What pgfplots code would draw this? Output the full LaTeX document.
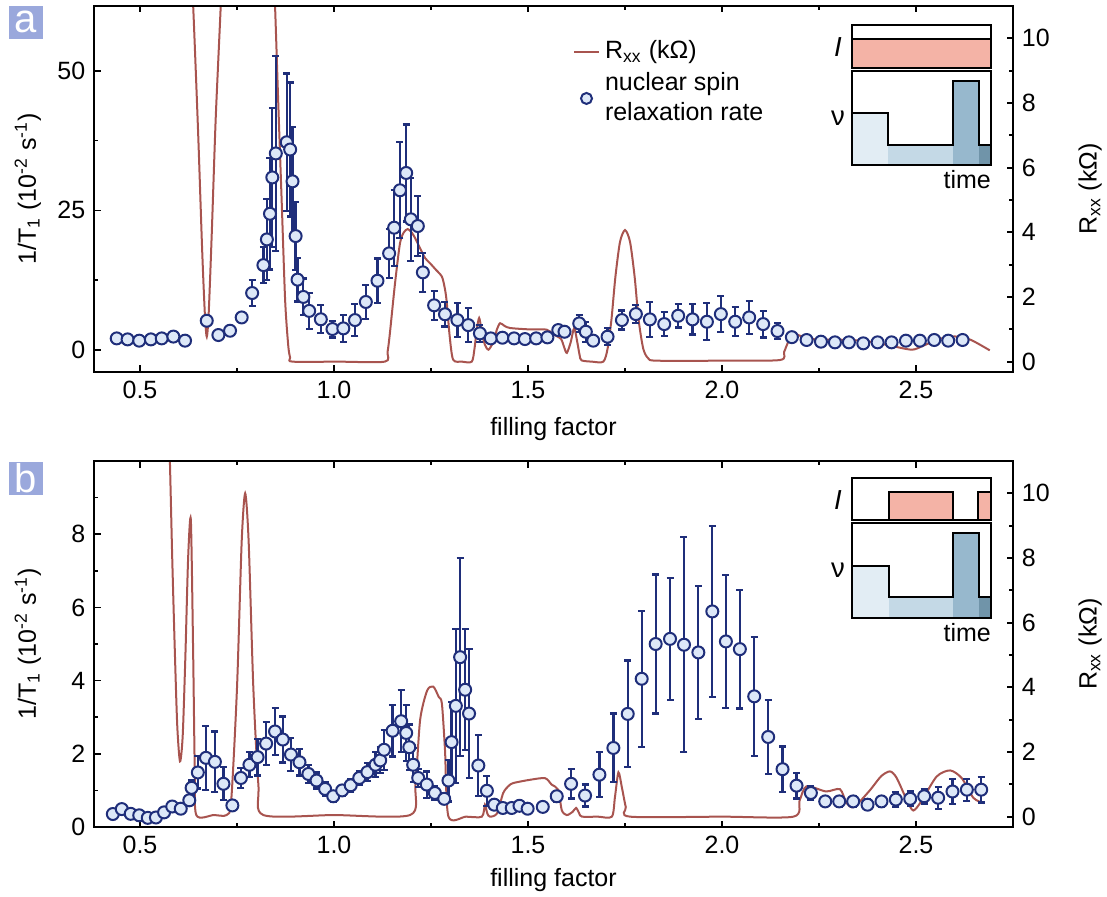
\documentclass[border=0pt]{standalone}
\usepackage{fontspec}
\setmainfont{Liberation Sans}
\usepackage{pgfplots}
\usepackage{pgfplotstable}
\pgfplotsset{compat=1.18}

\definecolor{rxx}{HTML}{A8544F}
\definecolor{navy}{HTML}{1F2E7A}
\definecolor{mfill}{HTML}{DDE8F8}
\definecolor{pinkI}{HTML}{F4B3A6}
\definecolor{nuA}{HTML}{E2EDF4}
\definecolor{nuB}{HTML}{C4D9E6}
\definecolor{nuC}{HTML}{97B8CD}
\definecolor{nuD}{HTML}{7094A9}
\definecolor{tag}{HTML}{9AA8DC}

% panel a: nuclear spin relaxation rate (x, 1/T1, error)
\pgfplotstableread{
x y e
0.440 2.08 0.5
0.468 1.90 0.5
0.498 1.67 0.5
0.528 1.90 0.5
0.556 2.08 0.5
0.586 2.40 0.5
0.616 1.67 0.5
0.672 5.24 0.6
0.702 2.68 0.5
0.732 3.45 0.5
0.762 5.83 0.4
0.789 10.2 2.3
0.818 15.2 3.2
0.827 19.8 7.3
0.835 24.4 10.0
0.841 30.9 12.5
0.850 35.2 17.5
0.878 37.2 12.3
0.887 35.9 12.0
0.893 30.2 9.7
0.901 20.4 6.1
0.906 12.6 3.9
0.921 9.5 3.3
0.936 7.0 3.2
0.966 5.5 2.5
0.996 3.75 1.5
1.024 3.87 2.4
1.054 5.36 2.9
1.082 8.6 3.0
1.112 12.4 4.0
1.142 17.3 4.4
1.155 21.9 6.8
1.170 28.6 8.6
1.186 31.7 8.7
1.198 23.4 7.4
1.216 22.2 5.4
1.229 13.9 3.5
1.258 8.0 2.6
1.286 6.4 2.2
1.318 5.36 3.0
1.346 4.46 3.0
1.376 2.98 1.5
1.404 2.08 0.6
1.434 2.20 0.6
1.464 2.08 0.6
1.492 1.96 0.6
1.521 2.08 0.6
1.550 2.26 0.6
1.578 3.57 0.8
1.594 3.27 0.6
1.632 4.76 1.5
1.649 3.27 1.8
1.668 1.67 0.6
1.705 2.38 1.5
1.742 5.36 1.7
1.778 6.43 1.6
1.814 5.48 3.1
1.851 4.64 2.2
1.887 6.13 2.1
1.924 5.48 2.7
1.961 5.06 3.3
1.997 6.43 3.2
2.034 5.06 2.6
2.070 5.83 3.0
2.106 4.64 2.4
2.143 3.39 1.4
2.180 2.30 0.5
2.218 1.79 0.5
2.255 1.49 0.5
2.291 1.37 0.5
2.327 1.37 0.5
2.364 1.19 0.5
2.401 1.37 0.5
2.437 1.37 0.5
2.474 1.67 0.5
2.510 1.67 0.5
2.547 1.79 0.5
2.583 1.67 0.5
2.620 1.79 0.5
}\spinA

% panel a: Rxx (kOhm)
\pgfplotstableread{
x r
0.625 14
0.637 11
0.650 7
0.660 3.5
0.667 1.5
0.672 0.77
0.677 1.5
0.685 4
0.695 7.5
0.708 11
0.718 14
0.838 14
0.848 11
0.856 8.1
0.865 5.0
0.874 1.9
0.882 0.5
0.887 0.12
0.893 0.0
1.010 0.0
1.131 0.0
1.138 0.3
1.144 0.88
1.157 2.4
1.170 3.66
1.180 4.0
1.190 4.1
1.200 4.0
1.210 3.8
1.222 3.5
1.235 3.2
1.247 3.05
1.262 2.85
1.278 2.63
1.285 2.3
1.290 1.9
1.298 0.8
1.307 0.06
1.330 0.0
1.355 0.0
1.362 0.4
1.368 1.0
1.374 1.35
1.380 1.0
1.388 0.55
1.398 0.37
1.410 0.6
1.420 1.0
1.428 1.19
1.440 1.1
1.454 1.04
1.500 1.0
1.548 0.99
1.565 0.85
1.585 0.7
1.593 0.45
1.600 0.27
1.610 0.6
1.619 1.04
1.627 0.6
1.633 0.2
1.638 0.04
1.665 0.0
1.694 0.0
1.705 0.4
1.715 1.3
1.725 2.6
1.737 3.7
1.750 4.07
1.763 3.7
1.775 2.6
1.785 1.3
1.797 0.4
1.810 0.1
1.832 0.03
2.000 0.03
2.149 0.05
2.160 0.3
2.170 0.6
2.180 0.85
2.190 0.85
2.218 0.73
2.250 0.68
2.300 0.68
2.360 0.65
2.400 0.58
2.440 0.48
2.490 0.37
2.520 0.5
2.560 0.7
2.600 0.78
2.640 0.68
2.690 0.35
}\rxxA

% panel b: nuclear spin relaxation rate
\pgfplotstableread{
x y e
0.430 0.355 0.05
0.453 0.49 0.05
0.476 0.36 0.05
0.498 0.32 0.05
0.520 0.25 0.05
0.541 0.26 0.05
0.562 0.40 0.05
0.583 0.56 0.06
0.605 0.50 0.06
0.627 0.73 0.08
0.633 1.07 0.2
0.649 1.49 0.44
0.670 1.89 0.88
0.693 1.78 0.83
0.715 1.18 0.45
0.738 0.59 0.1
0.760 1.34 0.27
0.782 1.70 0.34
0.803 1.91 0.5
0.825 2.28 0.58
0.848 2.61 0.64
0.868 2.39 0.63
0.889 1.98 0.45
0.911 1.77 0.36
0.934 1.45 0.25
0.955 1.27 0.22
0.977 1.04 0.2
0.998 0.84 0.15
1.021 1.00 0.15
1.043 1.14 0.17
1.065 1.34 0.2
1.086 1.50 0.25
1.107 1.70 0.34
1.119 1.82 0.35
1.129 2.11 0.55
1.151 2.63 0.7
1.173 2.89 0.85
1.186 2.57 0.77
1.194 2.18 0.62
1.204 1.70 0.46
1.217 1.34 0.25
1.239 1.16 0.36
1.260 0.93 0.2
1.284 0.77 0.15
1.295 1.27 0.57
1.303 2.32 1.1
1.314 3.31 2.1
1.325 4.64 2.7
1.338 3.75 1.65
1.348 3.10 1.77
1.372 1.68 0.84
1.394 0.99 0.41
1.413 0.61 0.1
1.435 0.52 0.08
1.458 0.52 0.08
1.478 0.58 0.08
1.499 0.50 0.08
1.538 0.55 0.08
1.574 0.84 0.15
1.611 1.18 0.4
1.647 0.86 0.3
1.684 1.43 0.62
1.720 2.16 0.94
1.757 3.09 1.46
1.793 4.05 1.86
1.829 5.00 1.9
1.866 5.14 1.67
1.902 4.98 2.94
1.939 4.77 1.82
1.975 5.89 2.34
2.010 5.07 1.82
2.046 4.86 1.62
2.083 3.57 1.62
2.119 2.46 1.02
2.156 1.58 0.62
2.192 1.13 0.35
2.229 0.93 0.2
2.266 0.70 0.1
2.302 0.70 0.15
2.338 0.70 0.15
2.375 0.61 0.15
2.411 0.70 0.15
2.448 0.75 0.2
2.485 0.77 0.2
2.521 0.84 0.2
2.557 0.80 0.3
2.594 0.97 0.35
2.631 1.02 0.3
2.668 1.02 0.35
}\spinB

% panel b: Rxx (kOhm)
\pgfplotstableread{
x r
0.570 14
0.577 11
0.583 8
0.590 5
0.596 2.8
0.603 1.71
0.610 2.5
0.617 5
0.624 8
0.631 9.17
0.637 5
0.641 1.5
0.645 0.05
0.690 0.05
0.723 0.05
0.735 0.5
0.750 4
0.762 8.5
0.771 10.0
0.780 8.5
0.792 4
0.805 1
0.818 0.05
1.000 0.05
1.196 0.05
1.210 1.0
1.222 3.0
1.240 3.9
1.256 4.02
1.270 3.7
1.278 3.5
1.286 2.07
1.295 0.0
1.340 0.0
1.381 0.0
1.389 0.37
1.395 0.1
1.402 0.0
1.420 0.1
1.436 0.73
1.450 0.95
1.462 1.04
1.505 1.14
1.544 1.19
1.561 0.99
1.578 0.83
1.587 0.2
1.600 0.05
1.615 0.15
1.624 0.27
1.632 0.1
1.639 0.0
1.680 0.0
1.716 0.0
1.724 0.6
1.733 1.37
1.742 0.9
1.752 0.3
1.763 0.0
2.000 0.0
2.184 0.0
2.200 0.5
2.218 0.94
2.268 0.78
2.304 0.85
2.321 0.42
2.340 0.3
2.380 0.8
2.410 1.25
2.433 1.4
2.450 1.2
2.476 0.52
2.493 0.19
2.515 0.5
2.553 1.24
2.588 1.43
2.618 1.19
2.648 0.58
2.674 0.42
}\rxxB

\pgfplotsset{
  base/.style={scale only axis, width=367.6pt, height=146.4pt,
    xmin=0.3814, xmax=2.75, anchor=south west,
    tick align=inside, major tick length=2.6pt, minor tick length=1.6pt,
    axis line style={line width=0.8pt},
    every tick/.style={line width=0.7pt, black},
    tick label style={font=\fontsize{10}{12}\selectfont},
    label style={font=\fontsize{10}{12}\selectfont},
    /pgf/number format/assume math mode=true},
  rax/.style={base, axis x line=none, axis y line*=right,
    ymin=-0.32, ymax=11, ytick={0,2,...,10}, minor ytick={1,3,...,9},
    ylabel={R\textsubscript{xx} (kΩ)},
    ylabel style={at={(axis description cs:1.084,0.5)}, anchor=center}},
  lax/.style={base, ytick pos=left,
    xtick={0.5,1,1.5,2,2.5}, minor xtick={0.75,1.25,1.75,2.25},
    xticklabel pos=bottom,
    xticklabel style={/pgf/number format/.cd, fixed, fixed zerofill, precision=1},
    xlabel={filling factor},
    ylabel={1/T\textsubscript{1} (10\textsuperscript{-2} s\textsuperscript{-1})},
    ylabel style={at={(axis description cs:-0.072,0.5)}, anchor=center}},
  rxxline/.style={color=rxx, line width=0.8pt, no marks, smooth, tension=0.45},
  shortline/.style={legend image code/.code={\draw[##1, sharp plot] (0.3cm-5pt,0pt) -- (0.3cm+5pt,0pt);}},
  spin/.style={only marks, mark=*, mark size=2.4pt,
    mark options={fill=mfill, draw=navy, line width=0.8pt},
    error bars/.cd, y dir=both, y explicit,
    error bar style={line width=0.9pt, navy},
    error mark options={rotate=90, mark size=1.4pt, line width=0.9pt, navy}},
}

\begin{document}
\begin{tikzpicture}

% ---------- panel a ----------
\begin{axis}[rax, at={(37.6pt,-148.8pt)},
  legend style={at={(axis description cs:0.5125,0.934)}, anchor=north west,
    draw=none, fill=none, font=\fontsize{10}{12}\selectfont,
    cells={anchor=west, align=left}},
  legend cell align=left]
\addplot[rxxline, shortline] table[x=x, y=r] {\rxxA};
\addlegendentry{R\textsubscript{xx} (kΩ)}
\addlegendimage{only marks, mark=*, mark size=2.2pt, mark options={fill=mfill, draw=navy, line width=0.8pt}}
\addlegendentry{nuclear spin\\relaxation rate}
\end{axis}

\begin{axis}[lax, at={(37.6pt,-148.8pt)},
  ymin=-3.94, ymax=61.6, ytick={0,25,50}, minor ytick={12.5,37.5},
  xlabel style={at={(axis description cs:0.5,-0.156)}, anchor=center}]
\addplot[spin] table[x=x, y=y, y error=e] {\spinA};
\end{axis}

% ---------- panel b ----------
\begin{axis}[rax, at={(37.6pt,-330.8pt)}]
\addplot[rxxline] table[x=x, y=r] {\rxxB};
\end{axis}

\begin{axis}[lax, at={(37.6pt,-330.8pt)},
  ymin=0, ymax=10, ytick={0,2,...,8}, minor ytick={1,3,...,9},
  xlabel style={at={(axis description cs:0.5,-0.145)}, anchor=center}]
\addplot[spin] table[x=x, y=y, y error=e] {\spinB};
\end{axis}

% ---------- panel tags and timing insets (image pixel frame) ----------
\begin{scope}[x=0.4pt, y=-0.4pt, line width=0.7pt]
  \fill[tag] (9,6) rectangle (43,39);
  \node[white, font=\fontsize{16}{16}\selectfont] at (26,22) {a};
  \fill[tag] (9,462) rectangle (43,495);
  \node[white, font=\fontsize{16}{16}\selectfont] at (26,478) {b};

  % inset a
  \fill[pinkI] (851.7,39.3) rectangle (990.7,68.3);
  \draw (851.7,39.3) -- (990.7,39.3);
  \draw (851.7,25) rectangle (990.7,68.3);
  \fill[nuA] (851.7,113.3) rectangle (888.3,165);
  \fill[nuB] (888.3,145) rectangle (952.7,165);
  \fill[nuC] (952.7,81) rectangle (979,165);
  \fill[nuD] (979,145) rectangle (990.7,165);
  \draw (851.7,113.3) -- (888.3,113.3) -- (888.3,145) -- (952.7,145)
        -- (952.7,81) -- (979,81) -- (979,145) -- (990.7,145);
  \draw (851.7,71) rectangle (990.7,165);
  \node[font=\fontsize{11}{12}\selectfont\itshape] at (838,47) {I};
  \node[font=\fontsize{11}{12}\selectfont] at (838,118) {ν};
  \node[anchor=east, font=\fontsize{10}{12}\selectfont, inner sep=0pt] at (991.7,180) {time};

  % inset b
  \fill[pinkI] (889.3,491.7) rectangle (952.7,520);
  \draw (889.3,520) -- (889.3,491.7) -- (952.7,491.7) -- (952.7,520);
  \fill[pinkI] (978.3,491.7) rectangle (990.7,520);
  \draw (978.3,520) -- (978.3,491.7) -- (990.7,491.7);
  \draw (851.7,477.7) rectangle (990.7,520);
  \fill[nuA] (851.7,566) rectangle (889.3,617.7);
  \fill[nuB] (889.3,596.7) rectangle (952.7,617.7);
  \fill[nuC] (952.7,533.3) rectangle (979,617.7);
  \fill[nuD] (979,596.7) rectangle (990.7,617.7);
  \draw (851.7,566) -- (889.3,566) -- (889.3,596.7) -- (952.7,596.7)
        -- (952.7,533.3) -- (979,533.3) -- (979,596.7) -- (990.7,596.7);
  \draw (851.7,523.3) rectangle (990.7,617.7);
  \node[font=\fontsize{11}{12}\selectfont\itshape] at (838,500) {I};
  \node[font=\fontsize{11}{12}\selectfont] at (838,570) {ν};
  \node[anchor=east, font=\fontsize{10}{12}\selectfont, inner sep=0pt] at (991.7,633) {time};

  \pgfresetboundingbox
  \path[use as bounding box] (0,0) rectangle (1107,897);
\end{scope}
\end{tikzpicture}
\end{document}
